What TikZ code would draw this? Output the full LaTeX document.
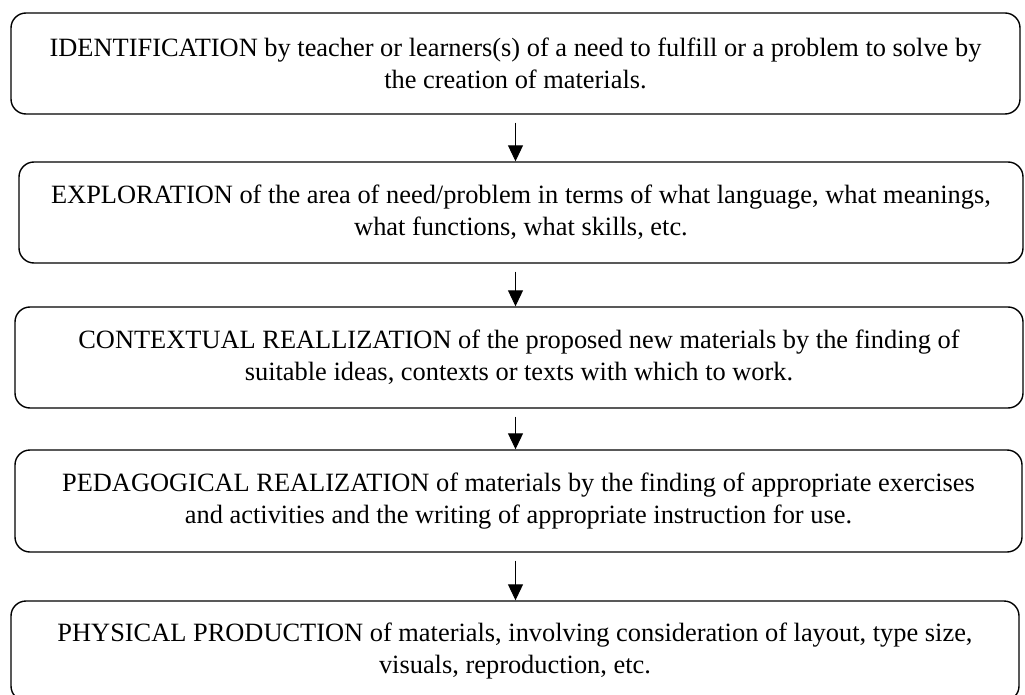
\documentclass[tikz,border=0pt]{standalone}
\usepackage{fontspec}
\setmainfont{Liberation Serif}
\usetikzlibrary{arrows.meta}
\begin{document}
\begin{tikzpicture}[x=1pt,y=-1pt,
  stage/.style={draw, line width=1.4pt, rounded corners=15pt, inner sep=0pt,
    align=center, font=\fontsize{26.4}{32}\selectfont},
  flow/.style={draw, line width=1pt, -{Triangle[width=15pt,length=16pt]}, shorten <=8pt}]
\useasboundingbox (0,0) rectangle (1025,695);
\node[stage, minimum width=1009pt, minimum height=101pt] (s1) at (515.5,63.5)
  {IDENTIFICATION by teacher or learners(s) of a need to fulfill or a problem to solve by\\the creation of materials.};
\node[stage, minimum width=1004pt, minimum height=101pt] (s2) at (521,212.5)
  {EXPLORATION of the area of need/problem in terms of what language, what meanings,\\what functions, what skills, etc.};
\node[stage, minimum width=1008pt, minimum height=101pt] (s3) at (519,357.5)
  {CONTEXTUAL REALLIZATION of the proposed new materials by the finding of\\suitable ideas, contexts or texts with which to work.};
\node[stage, minimum width=1007pt, minimum height=102pt] (s4) at (518.5,501)
  {PEDAGOGICAL REALIZATION of materials by the finding of appropriate exercises\\and activities and the writing of appropriate instruction for use.};
\node[stage, minimum width=1008pt, minimum height=100pt] (s5) at (515,651)
  {PHYSICAL PRODUCTION of materials, involving consideration of layout, type size,\\visuals, reproduction, etc.};
\draw[flow] (s1.south) -- (s1.south |- s2.north);
\draw[flow] (s2.south -| s1.south) -- (s1.south |- s3.north);
\draw[flow] (s3.south -| s1.south) -- (s1.south |- s4.north);
\draw[flow] (s4.south -| s1.south) -- (s1.south |- s5.north);
\end{tikzpicture}
\end{document}
